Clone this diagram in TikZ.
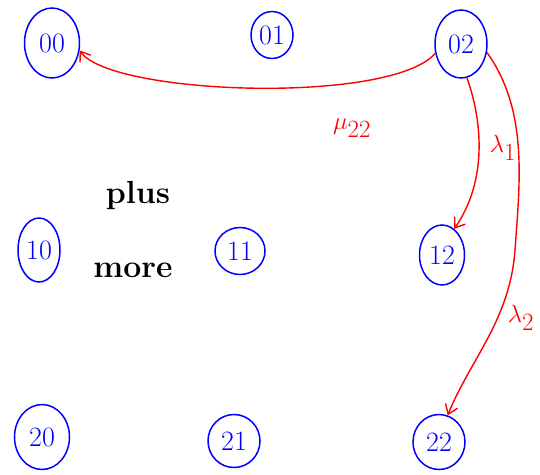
\documentclass[tikz,border=0pt]{standalone}
\usetikzlibrary{shapes.geometric,arrows.meta}
\begin{document}
\begin{tikzpicture}[x=1pt,y=-1pt,
  state/.style={ellipse,draw=blue,text=blue,line width=1.5pt,inner sep=0pt,font=\fontsize{28}{30}\selectfont},
  trans/.style={draw=red,line width=1.4pt,-{Straight Barb[length=9pt,width=13pt]}},
  rate/.style={text=red,font=\fontsize{33}{35}\selectfont},
  note/.style={text=black,font=\fontsize{32}{34}\selectfont\bfseries}]
\useasboundingbox (0,0) rectangle (540,474);
\node[state,minimum width=55pt,minimum height=70pt] (n00) at (52,43) {00};
\node[state,minimum width=42pt,minimum height=47pt] (n01) at (272,35) {01};
\node[state,minimum width=52pt,minimum height=68pt] (n02) at (461,44) {02};
\node[state,minimum width=42pt,minimum height=64pt] (n10) at (39,250) {10};
\node[state,minimum width=50pt,minimum height=47pt] (n11) at (240,251) {11};
\node[state,minimum width=45pt,minimum height=60pt] (n12) at (442,255) {12};
\node[state,minimum width=55pt,minimum height=65pt] (n20) at (42,437) {20};
\node[state,minimum width=52pt,minimum height=53pt] (n21) at (234,441) {21};
\node[state,minimum width=52pt,minimum height=55pt] (n22) at (439,442) {22};
\node[note] (plus) at (138,195) {plus};
\node[note] (more) at (133,270) {more};
\draw[trans] (n02.200) .. controls (390,105) and (110,95) .. (n00.-15);
\draw[trans] (n02.-80) .. controls (482,120) and (488,180) .. (n12.65);
\draw[trans] (n02.-18) .. controls (528,110) and (520,180) .. (515,250)
  .. controls (510,320) and (470,360) .. (n22.72);
\node[rate] (mu) at (352,128) {$\mu_{22}$};
\node[rate] (l1) at (503,148) {$\lambda_1$};
\node[rate] (l2) at (521,318) {$\lambda_2$};
\end{tikzpicture}
\end{document}
